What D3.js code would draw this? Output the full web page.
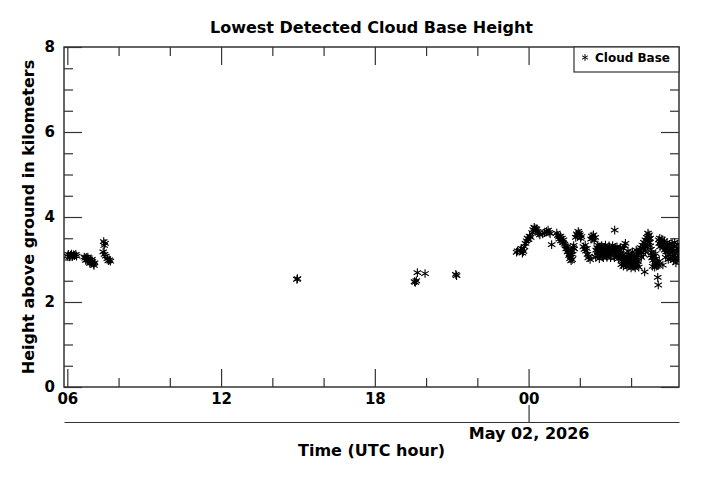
<!DOCTYPE html>
<html>
<head>
<meta charset="utf-8">
<script src="https://cdn.jsdelivr.net/npm/d3@7"></script>
<style>
body { margin: 0; background: #fff; }
text { font-family: "DejaVu Sans", sans-serif; font-weight: bold; fill: #000; }
</style>
</head>
<body>
<div class="chart"></div>
<script>
// DATA ------------------------------
// [hours after 2026-05-01 00:00 UTC, height in km]
const earlyMorning = [
    [6.00,3.08],[6.04,3.12],[6.08,3.06],[6.12,3.10],[6.16,3.13],[6.20,3.07],[6.24,3.11],[6.28,3.09],[6.33,3.12],[6.36,3.08],
    [6.66,3.06],[6.70,3.03],[6.74,3.05],[6.78,2.99],[6.82,3.01],[6.86,2.96],[6.90,2.98],[6.94,2.92],[6.98,2.95],[7.02,2.89],[7.06,2.92],
    [6.72,2.98],[6.80,3.06],[6.88,2.91],[6.96,3.00],[7.04,2.86],
    [7.42,3.42],[7.47,3.38],[7.44,3.33],[7.40,3.18],[7.45,3.12],[7.50,3.08],[7.56,3.02],[7.60,2.97],[7.64,2.99],[7.68,2.96]
];
const afternoon = [
    [14.96,2.53],[14.98,2.55]
];
const evening = [
    [19.55,2.48],[19.58,2.46],[19.62,2.50],[19.66,2.69],[19.96,2.67],
    [21.16,2.65],[21.19,2.62]
];
const overnight = [
    [23.53,3.17],[23.57,3.20],[23.68,3.22],[23.72,3.26],[23.76,3.15],[23.80,3.19],[23.84,3.30],[23.88,3.38],[23.92,3.44],[23.96,3.50],[24.00,3.47],
    [24.04,3.55],[24.08,3.52],[24.14,3.63],[24.18,3.70],[24.22,3.76],[24.25,3.73],[24.28,3.68],[24.31,3.72],[24.35,3.66],[24.40,3.62],[24.44,3.58],
    [24.55,3.60],[24.62,3.63],[24.70,3.66],[24.76,3.69],[24.80,3.64],[24.84,3.61],[24.90,3.35],
    [25.10,3.62],[25.14,3.57],[25.18,3.53],[25.20,3.48],[25.24,3.55],[25.26,3.44],[25.30,3.50],[25.34,3.40],[25.36,3.46],[25.40,3.36],
    [25.44,3.32],[25.47,3.25],[25.50,3.30],[25.52,3.18],[25.55,3.22],[25.58,3.10],[25.60,3.14],[25.62,3.02],[25.64,3.06],[25.66,2.97],
    [25.68,3.20],[25.70,3.00],[25.72,3.12],[25.74,3.28],[25.76,3.33],[25.78,3.25],
    [25.84,3.52],[25.88,3.60],[25.91,3.56],[25.94,3.66],[25.97,3.62],[26.00,3.58],[26.03,3.50],[26.06,3.54],
    [26.14,3.30],[26.18,3.24],[26.21,3.34],[26.24,3.20],[26.27,3.26],[26.30,3.12],[26.33,3.04],[26.36,3.08],[26.40,3.00]
];
const earlyMay2 = [
    [26.44,3.48],[26.47,3.55],[26.50,3.50],[26.53,3.58],[26.56,3.45],[26.60,3.52],
    [26.64,3.22],[26.66,3.14],[26.68,3.28],[26.70,3.18],[26.72,3.10],[26.74,3.24],[26.76,3.16],[26.78,3.30],[26.80,3.20],[26.82,3.12],
    [26.84,3.26],[26.86,3.18],[26.88,3.08],[26.90,3.22],[26.92,3.15],[26.94,3.28],[26.96,3.12],[26.98,3.20],[27.00,3.24],[27.02,3.16],
    [27.04,3.10],[27.06,3.22],[27.08,3.18],[27.10,3.26],[27.12,3.14],[27.14,3.20],[27.16,3.28],[27.18,3.12],[27.20,3.22],[27.22,3.17],
    [27.24,3.26],[27.26,3.20],[27.30,3.15],[27.32,3.24],[27.34,3.19],[27.36,3.69],[27.38,3.28],[27.40,3.16],[27.42,3.22],[27.44,3.12],
    [27.46,3.20],[27.48,3.08],[27.50,3.18],[27.52,3.14],[27.54,3.24],[27.56,3.10],[27.58,3.06],
    [27.60,3.14],[27.62,3.04],[27.64,3.00],[27.66,3.10],[27.68,2.96],[27.70,3.26],[27.72,3.06],[27.74,3.32],[27.76,2.98],[27.78,3.38],
    [27.80,3.02],[27.82,2.94],[27.84,3.08],[27.86,3.00],[27.88,2.92],[27.90,3.12],[27.92,3.04],[27.94,2.96],[27.96,3.06],[27.98,2.90],
    [28.00,3.00],[28.02,3.10],[28.04,2.94],[28.06,2.88],[28.08,3.02],[28.10,2.96],[28.12,2.86],[28.14,3.06],[28.16,2.92],[28.18,2.98],
    [28.20,3.12],[28.22,2.90],[28.24,3.04],[28.26,3.18],[28.28,2.96],[28.30,3.10],
    [28.34,3.22],[28.38,3.28],[28.41,3.18],[28.44,3.34],[28.47,3.26],[28.50,3.40],[28.53,3.30],[28.53,2.71],[28.56,3.46],[28.58,3.36],
    [28.61,3.52],[28.64,3.44],[28.67,3.55],[28.70,3.48],[28.72,3.40],[28.75,3.32],[28.78,3.24],[28.80,3.16],
    [28.76,3.10],[28.82,3.04],[28.86,2.98],[28.90,3.08],[28.94,2.94],[28.98,3.02],[29.02,2.90],[29.06,2.86],[29.10,2.96],
    [29.04,2.58],[29.06,2.40],[29.24,2.87],
    [29.08,3.46],[29.10,3.38],[29.13,3.30],[29.16,3.42],[29.19,3.34],[29.22,3.40],[29.25,3.28],[29.28,3.36],[29.31,3.22],[29.34,3.30],
    [29.37,3.18],[29.40,3.26],[29.43,3.34],[29.46,3.20],[29.49,3.12],[29.52,3.28],[29.55,3.16],[29.58,3.24],[29.61,3.08],[29.64,3.20],
    [29.67,3.30],[29.70,3.14],[29.73,3.04],[29.76,3.22],[29.79,2.98],[29.82,3.18],[29.85,3.26]
];
// scattered returns at the edges of the morning band
const earlyMay2Spread = [
    [26.62,3.05],[26.70,3.34],[26.76,3.02],[26.85,3.33],[26.92,3.04],[27.00,3.34],[27.06,3.05],[27.14,3.32],[27.20,3.04],
    [27.28,3.33],[27.35,3.04],[27.45,3.30],[27.52,3.02],[27.58,3.28],
    [27.62,2.88],[27.70,2.84],[27.78,2.88],[27.84,2.82],[27.92,2.86],[28.00,2.80],[28.08,2.84],[28.16,2.80],[28.24,2.86],
    [28.30,2.82],[27.88,3.20],[28.05,3.18],[28.20,3.22],
    [28.40,3.05],[28.48,3.12],[28.56,3.20],[28.62,3.30],[28.66,3.62],[28.70,3.58],[28.74,3.50],
    [28.84,2.84],[28.92,2.82],[29.00,2.84],[28.96,3.14],
    [29.12,3.50],[29.20,3.48],[29.30,3.44],[29.40,3.40],[29.50,3.36],[29.60,3.38],[29.70,3.40],[29.80,3.36],
    [29.35,3.05],[29.45,3.00],[29.55,3.02],[29.65,2.98],[29.75,2.92],[29.85,3.05]
];

// axis settings
const startHour = 5.87;                 // left edge of the 24 h window
const majorHours = [6, 12, 18, 24];     // labelled 06, 12, 18, 00
const minorHours = [8, 10, 14, 16, 20, 22, 26, 28];
const yMajorTicks = [0, 2, 4, 6, 8];
const yMinorTicks = [0.5, 1, 1.5, 2.5, 3, 3.5, 4.5, 5, 5.5, 6.5, 7, 7.5];
const dateTickHour = 24;

const cloudBase = [].concat(earlyMorning, afternoon, evening, overnight, earlyMay2, earlyMay2Spread);

// CHART INIT ------------------------------
const toDate = h => new Date(Date.UTC(2026, 4, 1) + h * 3600000);

const margin = ({top: 47, right: 22, bottom: 93, left: 64});
const width = 701 - margin.left - margin.right,
      height = 480 - margin.top - margin.bottom;

const svg = d3.select(".chart")
    .append("svg")
    .attr("width", width + margin.left + margin.right)
    .attr("height", height + margin.top + margin.bottom)
    .append("g")
    .attr("transform", "translate(" + margin.left + "," + margin.top + ")");

const xScale = d3.scaleUtc()
    .domain([toDate(startHour), toDate(startHour + 24)])
    .range([0, width]);

const yScale = d3.scaleLinear()
    .domain([0, 8])
    .range([height, 0]);

function styleAxis(g, size) {
    g.select(".domain").remove();
    g.selectAll(".tick line").attr("stroke", "#333").attr("stroke-width", 1.2);
    g.selectAll(".tick text").attr("font-size", size).attr("font-family", "DejaVu Sans").attr("font-weight", "bold").attr("fill", "#000");
}

// bottom axis
svg.append("g").attr("transform", "translate(0," + height + ")")
    .call(d3.axisBottom(xScale).tickValues(majorHours.map(toDate)).tickSize(-18).tickPadding(6)
        .tickFormat(d3.utcFormat("%H")))
    .call(g => styleAxis(g, 15));
svg.append("g").attr("transform", "translate(0," + height + ")")
    .call(d3.axisBottom(xScale).tickValues(minorHours.map(toDate)).tickSize(-9).tickFormat(""))
    .call(g => styleAxis(g, 15));

// top axis
svg.append("g")
    .call(d3.axisTop(xScale).tickValues(majorHours.map(toDate)).tickSize(-18).tickFormat(""))
    .call(g => styleAxis(g, 15));
svg.append("g")
    .call(d3.axisTop(xScale).tickValues(minorHours.map(toDate)).tickSize(-9).tickFormat(""))
    .call(g => styleAxis(g, 15));

// left axis
svg.append("g")
    .call(d3.axisLeft(yScale).tickValues(yMajorTicks).tickSize(-18).tickPadding(9).tickFormat(d3.format("d")))
    .call(g => styleAxis(g, 15));
svg.append("g")
    .call(d3.axisLeft(yScale).tickValues(yMinorTicks).tickSize(-9).tickFormat(""))
    .call(g => styleAxis(g, 15));

// right axis
svg.append("g").attr("transform", "translate(" + width + ",0)")
    .call(d3.axisRight(yScale).tickValues(yMajorTicks).tickSize(-18).tickFormat(""))
    .call(g => styleAxis(g, 15));
svg.append("g").attr("transform", "translate(" + width + ",0)")
    .call(d3.axisRight(yScale).tickValues(yMinorTicks).tickSize(-9).tickFormat(""))
    .call(g => styleAxis(g, 15));

// frame
svg.append("rect")
    .attr("width", width)
    .attr("height", height)
    .attr("fill", "none")
    .attr("stroke", "#333")
    .attr("stroke-width", 1.5);

// date axis below
const dateAxis = svg.append("g").attr("transform", "translate(0," + (height + 35) + ")")
    .call(d3.axisBottom(xScale).tickValues([toDate(dateTickHour)]).tickSizeInner(-17).tickSizeOuter(0)
        .tickPadding(6).tickFormat(d3.utcFormat("%b %d, %Y")));
dateAxis.select(".domain").attr("stroke", "#333").attr("stroke-width", 1.2);
dateAxis.selectAll(".tick line").attr("stroke", "#333").attr("stroke-width", 1.2);
dateAxis.selectAll(".tick text").attr("font-size", 16).attr("font-family", "DejaVu Sans").attr("font-weight", "bold").attr("fill", "#000");

// points
svg.append("clipPath").attr("id", "plot-clip")
    .append("rect").attr("width", width).attr("height", height);

const star = d3.symbol().type(d3.symbolAsterisk).size(52);

svg.append("g")
    .attr("clip-path", "url(#plot-clip)")
    .selectAll("path")
    .data(cloudBase)
    .enter()
    .append("path")
    .attr("d", star)
    .attr("transform", d => "translate(" + xScale(toDate(d[0])) + "," + yScale(d[1]) + ")")
    .attr("fill", "none")
    .attr("stroke", "#000")
    .attr("stroke-width", 1.1);

// legend
const legend = svg.append("g").attr("transform", "translate(" + (width - 105) + ",0)");
legend.append("rect")
    .attr("width", 105)
    .attr("height", 25)
    .attr("fill", "#fff")
    .attr("stroke", "#333")
    .attr("stroke-width", 1.2);
legend.append("path")
    .attr("d", d3.symbol().type(d3.symbolAsterisk).size(32))
    .attr("transform", "translate(11,10.5)")
    .attr("fill", "none")
    .attr("stroke", "#000")
    .attr("stroke-width", 1);
legend.append("text")
    .attr("x", 21)
    .attr("y", 14.5)
    .attr("font-size", 12)
    .text("Cloud Base");

// labels
svg.append("text")
    .attr("x", width / 2)
    .attr("y", -14)
    .attr("text-anchor", "middle")
    .attr("font-size", 16)
    .text("Lowest Detected Cloud Base Height");

svg.append("text")
    .attr("x", width / 2)
    .attr("y", height + 69)
    .attr("text-anchor", "middle")
    .attr("font-size", 16)
    .text("Time (UTC hour)");

svg.append("text")
    .attr("transform", "translate(" + (33.5 - margin.left) + "," + (height / 2) + ") rotate(-90)")
    .attr("text-anchor", "middle")
    .attr("font-size", 16)
    .text("Height above ground in kilometers");
</script>
</body>
</html>
